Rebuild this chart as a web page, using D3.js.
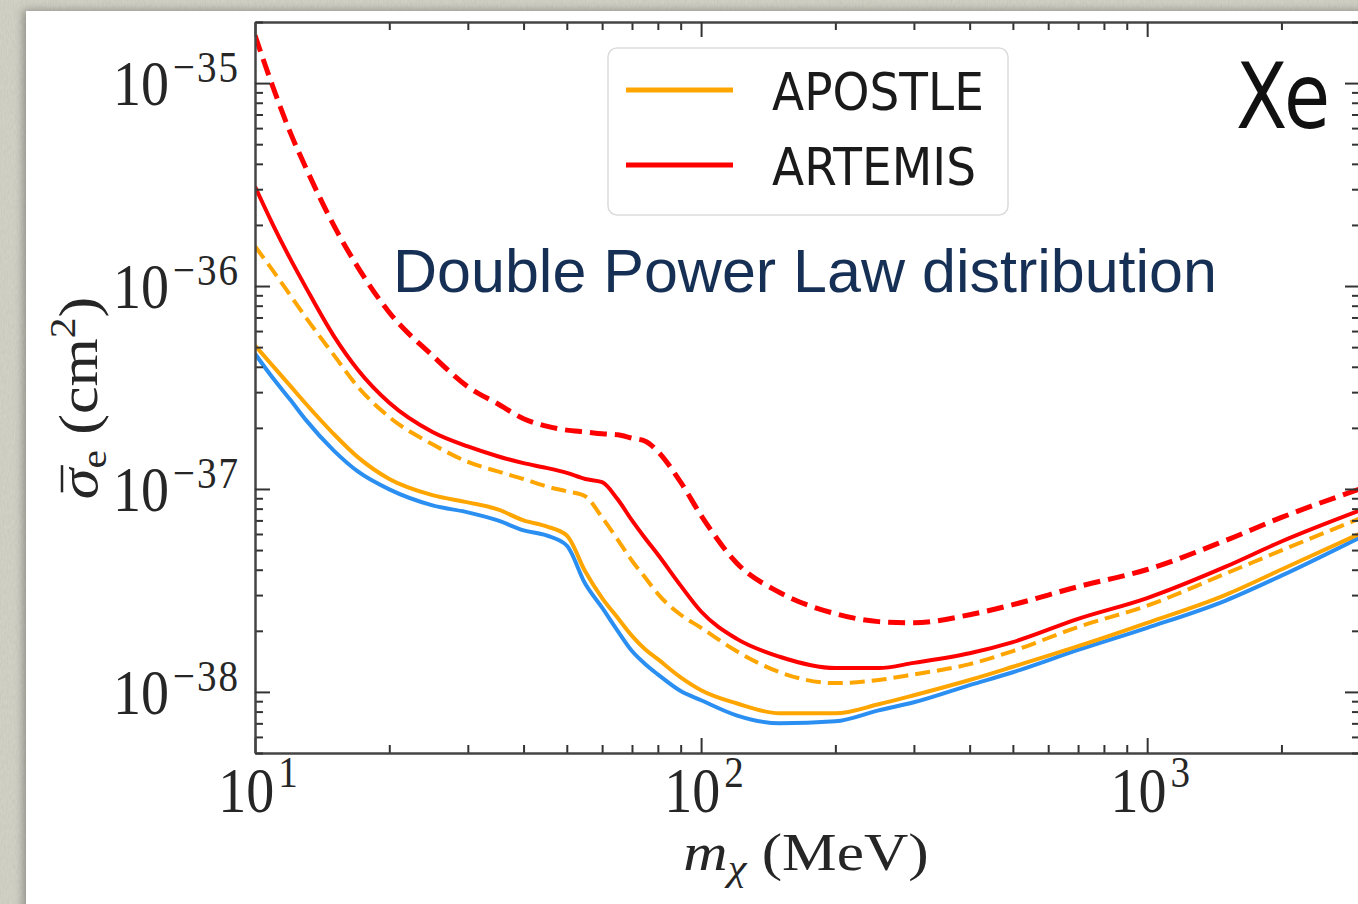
<!DOCTYPE html>
<html>
<head>
<meta charset="utf-8">
<script src="https://cdn.jsdelivr.net/npm/d3@7"></script>
<style>
  html, body { margin: 0; padding: 0; background: #cbc9bd; overflow: hidden; }
  svg { display: block; }
</style>
</head>
<body>
<div id="chart"></div>
<script>
// Xe exclusion curves, Double Power Law velocity distribution
// masses in MeV, cross sections in cm^2
const massMeV = [10, 11, 12, 13, 15, 17, 20, 25, 30, 35, 40, 45, 50, 55, 60, 65, 70, 75, 80, 90,
    100, 120, 150, 200, 250, 300, 400, 500, 700, 1000, 1500, 2000, 3000];

const blueSolid = [4.64e-37, 3.49e-37, 2.75e-37, 2.19e-37, 1.55e-37, 1.22e-37, 9.95e-38, 8.30e-38, 7.67e-38, 7.00e-38,
    6.25e-38, 5.90e-38, 5.26e-38, 3.41e-38, 2.60e-38, 2.00e-38, 1.59e-38, 1.37e-38, 1.22e-38, 1.01e-38,
    9.10e-39, 7.67e-39, 7.00e-39, 7.16e-39, 8.11e-39, 8.89e-39, 1.08e-38, 1.25e-38, 1.61e-38, 2.07e-38,
    2.82e-38, 3.74e-38, 5.77e-38];

const apostleSolid = [5.09e-37, 4.01e-37, 3.22e-37, 2.63e-37, 1.87e-37, 1.435e-37, 1.12e-37, 9.32e-38, 8.59e-38, 7.93e-38,
    7.00e-38, 6.54e-38, 5.90e-38, 3.92e-38, 2.90e-38, 2.32e-38, 1.89e-38, 1.62e-38, 1.45e-38, 1.18e-38,
    1.02e-38, 8.79e-39, 7.84e-39, 7.84e-39, 8.69e-39, 9.63e-39, 1.145e-38, 1.33e-38, 1.68e-38, 2.19e-38,
    3.01e-38, 4.01e-38, 6.03e-38];

const apostleDashed = [1.57e-36, 1.18e-36, 9.0e-37, 7.00e-37, 4.59e-37, 3.19e-37, 2.26e-37, 1.66e-37, 1.36e-37, 1.22e-37,
    1.12e-37, 1.03e-37, 9.74e-38, 9.20e-38, 7.24e-38, 5.63e-38, 4.43e-38, 3.65e-38, 3.04e-38, 2.40e-38,
    2.07e-38, 1.59e-38, 1.25e-38, 1.105e-38, 1.145e-38, 1.22e-38, 1.37e-38, 1.59e-38, 2.09e-38, 2.66e-38,
    3.83e-38, 4.98e-38, 7.16e-38];

const artemisSolid = [3.09e-36, 1.98e-36, 1.36e-36, 9.85e-37, 5.70e-37, 3.87e-37, 2.66e-37, 1.91e-37, 1.62e-37, 1.45e-37,
    1.34e-37, 1.27e-37, 1.20e-37, 1.12e-37, 1.08e-37, 8.89e-38, 7.00e-38, 5.70e-38, 4.75e-38, 3.34e-38,
    2.49e-38, 1.83e-38, 1.49e-38, 1.31e-38, 1.31e-38, 1.39e-38, 1.55e-38, 1.76e-38, 2.29e-38, 2.90e-38,
    4.14e-38, 5.51e-38, 7.84e-38];

const artemisDashed = [1.72e-35, 9.41e-36, 5.70e-36, 3.83e-36, 2.00e-36, 1.24e-36, 7.41e-37, 4.54e-37, 3.19e-37, 2.63e-37,
    2.22e-37, 2.04e-37, 1.95e-37, 1.91e-37, 1.87e-37, 1.85e-37, 1.78e-37, 1.72e-37, 1.53e-37, 1.08e-37,
    7.41e-38, 4.33e-38, 3.09e-38, 2.43e-38, 2.22e-38, 2.19e-38, 2.40e-38, 2.69e-38, 3.30e-38, 4.01e-38,
    5.58e-38, 7.24e-38, 1.00e-37];

const xMajor = [10, 100, 1000];
const yMajor = [1e-38, 1e-37, 1e-36, 1e-35];
const legendLabels = ['APOSTLE', 'ARTEMIS'];

const W = 1358, H = 904;
const box = { left: 255, right: 1360, top: 22, bottom: 753 };

const svg = d3.select('#chart').append('svg')
    .attr('width', W)
    .attr('height', H);

const defs = svg.append('defs');

// linen-like backdrop
const linen = defs.append('filter').attr('id', 'linen')
    .attr('x', 0).attr('y', 0).attr('width', 1).attr('height', 1);
linen.append('feTurbulence')
    .attr('type', 'fractalNoise')
    .attr('baseFrequency', '0.7 0.2')
    .attr('numOctaves', 3)
    .attr('seed', 4);
linen.append('feColorMatrix')
    .attr('type', 'matrix')
    .attr('values', '0 0 0 0 0.5  0 0 0 0 0.5  0 0 0 0 0.44  0.7 0 0 0 -0.2');

const shadow = defs.append('filter').attr('id', 'shadow')
    .attr('x', '-5%').attr('y', '-5%').attr('width', '110%').attr('height', '110%');
shadow.append('feDropShadow')
    .attr('dx', -3).attr('dy', -1)
    .attr('stdDeviation', 4)
    .attr('flood-color', '#000')
    .attr('flood-opacity', 0.3);

defs.append('clipPath').attr('id', 'plotClip')
    .append('rect')
    .attr('x', box.left).attr('y', box.top)
    .attr('width', box.right - box.left).attr('height', box.bottom - box.top);

svg.append('rect').attr('width', W).attr('height', H).attr('fill', '#d2d1c6');
svg.append('rect').attr('width', W).attr('height', H).attr('filter', 'url(#linen)');

svg.append('rect')
    .attr('x', 26).attr('y', 11)
    .attr('width', W).attr('height', H)
    .attr('fill', '#fff')
    .attr('filter', 'url(#shadow)');

const x = d3.scaleLog().domain([10, 3000]).range([box.left, box.right]);
const y = d3.scaleLog().domain([5e-39, 2e-35]).range([box.bottom, box.top]);

const xMinor = x.ticks().filter(v => !xMajor.includes(v));
const yMinor = y.ticks().filter(v => !yMajor.some(m => Math.abs(m - v) / m < 1e-6));

// curves
const line = d3.line()
    .x((d, i) => x(massMeV[i]))
    .y(d => y(d))
    .curve(d3.curveMonotoneX);

const series = [
    { values: blueSolid, color: '#2b8ff2', width: 4, dash: null },
    { values: apostleSolid, color: '#ffa500', width: 4, dash: null },
    { values: apostleDashed, color: '#ffa500', width: 4, dash: '15,7' },
    { values: artemisSolid, color: '#ff0000', width: 4, dash: null },
    { values: artemisDashed, color: '#ff0000', width: 5, dash: '17,8' }
];

const plot = svg.append('g').attr('clip-path', 'url(#plotClip)');
plot.selectAll('.curve')
    .data(series)
    .enter()
    .append('path')
    .attr('class', 'curve')
    .attr('d', d => line(d.values))
    .attr('fill', 'none')
    .attr('stroke', d => d.color)
    .attr('stroke-width', d => d.width)
    .attr('stroke-dasharray', d => d.dash)
    .attr('stroke-linejoin', 'round');

// axes, ticks pointing inward on all four sides
function styleAxis(g, keepDomain) {
    g.selectAll('.tick line').attr('stroke', '#333').attr('stroke-width', 2);
    g.selectAll('.tick text').remove();
    if (keepDomain) g.select('.domain').attr('stroke', '#444').attr('stroke-width', 2.5);
    else g.select('.domain').remove();
}

const axes = [
    { make: d3.axisBottom, scale: x, pos: `translate(0,${box.bottom})` },
    { make: d3.axisTop, scale: x, pos: `translate(0,${box.top})` },
    { make: d3.axisLeft, scale: y, pos: `translate(${box.left},0)` },
    { make: d3.axisRight, scale: y, pos: `translate(${box.right},0)` }
];

axes.forEach(a => {
    const major = a.scale === x ? xMajor : yMajor;
    const minor = a.scale === x ? xMinor : yMinor;
    svg.append('g').attr('transform', a.pos)
        .call(a.make(a.scale).tickValues(minor).tickSize(-8).tickSizeOuter(0).tickFormat(''))
        .call(g => styleAxis(g, false));
    svg.append('g').attr('transform', a.pos)
        .call(a.make(a.scale).tickValues(major).tickSize(-15).tickSizeOuter(0).tickFormat(''))
        .call(g => styleAxis(g, true));
});

// tick labels with superscript exponents
const serif = '"Liberation Serif", "DejaVu Serif", serif';
const inkColor = '#262626';
const expText = v => {
    const e = Math.round(Math.log10(v));
    return e < 0 ? '\u2212' + (-e) : String(e);
};

const yLab = svg.selectAll('.ylab')
    .data(yMajor)
    .enter()
    .append('text')
    .attr('class', 'ylab')
    .attr('transform', d => `translate(240,${y(d)}) scale(1,1.13)`)
    .attr('y', 19.5)
    .attr('text-anchor', 'end')
    .style('font-family', serif)
    .style('font-size', '56px')
    .style('fill', inkColor);
yLab.append('tspan').text('10');
yLab.append('tspan')
    .attr('dx', 4).attr('dy', -20.5)
    .style('font-size', '39px')
    .style('letter-spacing', '2px')
    .text(d => expText(d));

const xLab = svg.selectAll('.xlab')
    .data(xMajor)
    .enter()
    .append('text')
    .attr('class', 'xlab')
    .attr('transform', d => `translate(${x(d) + 3},812) scale(1,1.13)`)
    .attr('text-anchor', 'middle')
    .style('font-family', serif)
    .style('font-size', '56px')
    .style('fill', inkColor);
xLab.append('tspan').text('10');
xLab.append('tspan').attr('dx', 4).attr('dy', -22).style('font-size', '39px').text(d => expText(d));

// axis titles
const xTitle = svg.append('text')
    .attr('transform', 'translate(806,870) scale(1.18,1)')
    .attr('text-anchor', 'middle')
    .style('font-family', serif)
    .style('font-size', '52px')
    .style('fill', inkColor);
xTitle.append('tspan').style('font-style', 'italic').text('m');
xTitle.append('tspan').attr('dy', 10).style('font-size', '36px').style('font-style', 'italic').text('\u03c7');
xTitle.append('tspan').attr('dy', -10).text(' (MeV)');

const yTitleG = svg.append('g')
    .attr('transform', 'translate(97,398) rotate(-90) scale(1.15,1)');
const yTitle = yTitleG.append('text')
    .attr('text-anchor', 'middle')
    .style('font-family', serif)
    .style('font-size', '54px')
    .style('fill', inkColor);
yTitle.append('tspan').style('font-style', 'italic').text('\u03c3');
yTitle.append('tspan').attr('dy', 9).style('font-size', '36px').text('e');
yTitle.append('tspan').attr('dy', -9).text(' (cm');
yTitle.append('tspan').attr('dy', -22).style('font-size', '36px').text('2');
yTitle.append('tspan').attr('dy', 22).text(')');

// bar over sigma
const sigmaBox = yTitle.node().getExtentOfChar(0);
yTitleG.append('line')
    .attr('x1', sigmaBox.x + 6).attr('x2', sigmaBox.x + sigmaBox.width + 3)
    .attr('y1', -35).attr('y2', -35)
    .attr('stroke', inkColor)
    .attr('stroke-width', 2.5);

// legend
const legend = svg.append('g');
legend.append('rect')
    .attr('x', 608).attr('y', 48)
    .attr('width', 400).attr('height', 167)
    .attr('rx', 9)
    .attr('fill', '#fff')
    .attr('stroke', '#dcdcdc')
    .attr('stroke-width', 1.5);

const legendColors = ['#ffa500', '#ff0000'];
const ly = d3.scalePoint().domain(legendLabels).range([90, 165]);

legend.selectAll('.leg-line')
    .data(legendLabels)
    .enter()
    .append('line')
    .attr('x1', 626).attr('x2', 733)
    .attr('y1', d => ly(d)).attr('y2', d => ly(d))
    .attr('stroke', (d, i) => legendColors[i])
    .attr('stroke-width', 5);

legend.selectAll('.leg-text')
    .data(legendLabels)
    .enter()
    .append('text')
    .attr('transform', d => `translate(772,${ly(d) + 20}) scale(1,1.1)`)
    .style('font-family', '"DejaVu Sans", sans-serif')
    .style('font-size', '47px')
    .style('fill', '#1a1a1a')
    .text(d => d);

// panel annotations
svg.append('text')
    .attr('transform', 'translate(1236,128) scale(1,1.2)')
    .style('font-family', '"DejaVu Sans", sans-serif')
    .style('font-size', '75px')
    .style('fill', '#111')
    .text('Xe');

svg.append('text')
    .attr('x', 393)
    .attr('y', 292)
    .style('font-family', '"Liberation Sans", Arial, sans-serif')
    .style('font-size', '61px')
    .style('fill', '#152f55')
    .text('Double Power Law distribution');
</script>
</body>
</html>
